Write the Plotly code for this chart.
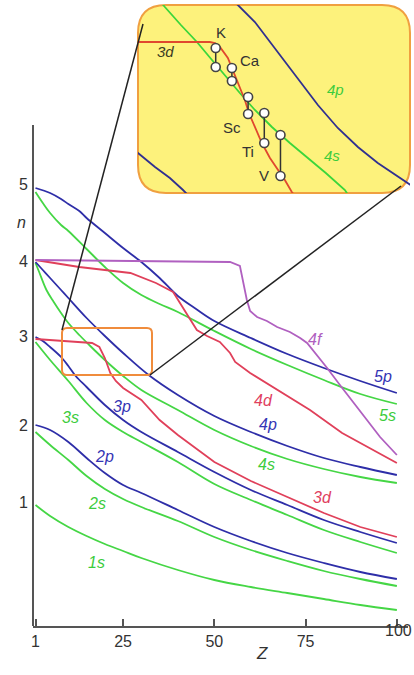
import plotly.graph_objects as go

W, H = 414, 675
AX_ROW = 626          # row of the Z axis; rows grow downward on the drawing

# ---------- main panel: x = Z, y = row on the drawing ----------
z_1s = [1, 5, 10, 15, 20, 25, 30, 40, 50, 60, 70, 80, 90, 100]
y_1s = [505, 516, 527, 536, 544, 551, 558, 570, 580, 587, 593, 599, 605, 610]

z_2s = [1, 5, 10, 15, 20, 25, 30, 40, 50, 60, 70, 80, 90, 100]
y_2s = [432, 445, 460, 476, 489, 499, 507, 521, 537, 550, 561, 571, 579, 586]

z_2p = [1, 5, 10, 15, 20, 25, 30, 40, 50, 60, 70, 80, 90, 100]
y_2p = [425, 430, 442, 458, 473, 485, 493, 510, 527, 541, 553, 563, 572, 579]

z_3s = [1, 5, 10, 15, 20, 25, 30, 40, 50, 60, 70, 80, 90, 100]
y_3s = [342, 360, 381, 403, 420, 432, 442, 462, 484, 500, 515, 530, 542, 553]

z_3p = [1, 3, 5, 8, 10, 12, 15, 20, 25, 30, 40, 50, 60, 70, 80, 90, 100]
y_3p = [337, 341, 347, 357, 366, 376, 387, 405, 420, 432, 452, 472, 490, 505, 520, 532, 543]

z_3d = [1, 5, 10, 15, 16.5, 18.5, 20, 21.5, 23, 25, 30, 35, 40, 50, 60, 70, 80, 90, 100]
y_3d = [339, 340, 341, 342, 343, 347, 358, 373, 381, 388, 400, 420, 435, 462, 481, 497, 513, 527, 537]

z_4s = [1, 2, 4, 6, 8, 10, 13, 16, 20, 25, 30, 40, 50, 60, 70, 80, 90, 100]
y_4s = [263, 272, 290, 302, 313, 323, 335, 346, 360, 376, 390, 410, 430, 446, 459, 469, 477, 483]

z_4p = [1, 3, 5, 8, 10, 15, 20, 25, 32, 40, 50, 60, 70, 80, 90, 100]
y_4p = [262, 270, 278, 290, 298, 318, 336, 353, 375, 395, 416, 432, 446, 458, 467, 475]

z_4d = [1, 13, 27, 34, 38.7, 40.6, 43.3, 45.2, 48, 51.5, 54.3, 55.7, 59.8, 67.2, 76.2, 85, 90, 95, 100]
y_4d = [260, 267, 273, 283, 292, 303, 320, 330, 336, 342, 353, 362, 373, 390, 410, 433, 443, 453, 463]

z_4f = [1, 30, 54.3, 57, 57.8, 58.9, 59.8, 61.7, 64.4, 67.2, 70.7, 73.5, 75.4, 78.1, 80.9, 84.4, 88, 91.8, 95.4, 100]
y_4f = [260, 261, 262, 266, 280, 300, 311, 317, 321, 327, 332, 338, 343, 355, 368, 385, 402, 420, 437, 455]

z_5s = [1, 3, 5, 8, 10, 15, 20, 25, 30, 35, 40, 50, 60, 70, 80, 90, 100]
y_5s = [192, 203, 213, 225, 231, 249, 267, 283, 295, 304, 312, 331, 349, 365, 380, 394, 404]

z_5p = [1, 5, 8, 10, 13, 15, 20, 25, 30, 35, 40, 45, 50, 60, 70, 80, 90, 100]
y_5p = [188, 193, 199, 204, 211, 218, 233, 248, 262, 278, 296, 309, 321, 338, 354, 368, 381, 393]

n_ticks = ["1", "2", "3", "4", "5"]
n_rows = [502, 425, 336, 261, 184]
z_ticks = [1, 25, 50, 75, 100]
z_tick_text = ["1", "25", "50", "75", ""]   # "100" is placed by hand so it is not cut

# curve labels: text, Z, row
lab_text = ["1s", "2s", "2p", "3s", "3p", "3d", "4s", "4p", "4d", "4f", "5p", "5s"]
lab_z = [17.8, 17.8, 20.0, 10.5, 24.7, 79.5, 64.4, 64.8, 63.5, 77.8, 96.2, 97.4]
lab_row = [562, 503, 456, 417, 406, 497, 464, 424, 400, 339, 376, 415]

# ---------- inset (magnified K..V region) ----------
iz_4s = [15.5, 15.86, 16.85, 17.84, 18.77, 19.63, 20.49, 21.42, 22.47, 23.58, 24.69, 25.8, 26.98, 27.3]
iy_4s = [0, 7, 25, 42, 60, 77, 93, 110, 127, 143, 158, 173, 190, 198]

iz_3d = [13.5, 18.64, 18.95, 19.26, 19.75, 20.06, 20.49, 20.8, 21.05, 21.42, 21.85, 22.35, 22.84, 23.27, 23.7, 24.0]
iy_3d = [42, 42, 43, 47, 58, 70, 87, 100, 113, 127, 143, 158, 170, 180, 192, 198]

iz_4p = [20.0, 20.37, 21.42, 22.35, 23.27, 24.2, 25.31, 26.54, 27.78, 29.01, 30.25, 31.0, 31.5]
iy_4p = [0, 5, 22, 42, 62, 82, 105, 128, 147, 163, 177, 185, 190]

iz_3p = [13.7, 14.2, 15.25, 16.17, 16.98, 17.4]
iy_3p = [145, 153, 167, 178, 190, 197]

elements = ["K", "Ca", "Sc", "Ti", "V"]
el_z = [19, 20, 21, 22, 23]
el_upper = [48, 68, 97, 113, 135]
el_lower = [67, 81, 114, 143, 176]
el_lab_z = [19.3, 21.1, 20.0, 21.0, 22.0]
el_lab_row = [32, 60, 127, 151, 175]

GREEN = "#45d645"
BLUE = "#2e2ea8"
RED = "#e0405a"
PURPLE = "#b060c0"
FONT = "Liberation Sans, Arial, sans-serif"


def px(x):
    return x / W


def py(y):
    return (AX_ROW - y) / AX_ROW


def rounded_box(x0, y0, x1, y1, r):
    return (f"M {px(x0 + r)},{py(y0)} L {px(x1 - r)},{py(y0)} "
            f"Q {px(x1)},{py(y0)} {px(x1)},{py(y0 + r)} L {px(x1)},{py(y1 - r)} "
            f"Q {px(x1)},{py(y1)} {px(x1 - r)},{py(y1)} L {px(x0 + r)},{py(y1)} "
            f"Q {px(x0)},{py(y1)} {px(x0)},{py(y1 - r)} L {px(x0)},{py(y0 + r)} "
            f"Q {px(x0)},{py(y0)} {px(x0 + r)},{py(y0)} Z")


fig = go.Figure()

main = [
    (z_1s, y_1s, GREEN, "spline"), (z_2s, y_2s, GREEN, "spline"), (z_3s, y_3s, GREEN, "spline"),
    (z_4s, y_4s, GREEN, "spline"), (z_5s, y_5s, GREEN, "spline"),
    (z_2p, y_2p, BLUE, "spline"), (z_3p, y_3p, BLUE, "spline"), (z_4p, y_4p, BLUE, "spline"),
    (z_5p, y_5p, BLUE, "spline"),
    (z_3d, y_3d, RED, "linear"), (z_4d, y_4d, RED, "linear"),
    (z_4f, y_4f, PURPLE, "linear"),
]
for zs, ys, col, shp in main:
    fig.add_trace(go.Scatter(x=zs, y=ys, mode="lines", line=dict(color=col, width=1.8, shape=shp),
                             hoverinfo="skip", showlegend=False))

# inset curves
inset = [(iz_4s, iy_4s, "#3bd63b"), (iz_3d, iy_3d, "#e0482e"),
         (iz_4p, iy_4p, "#303090"), (iz_3p, iy_3p, "#303090")]
for zs, ys, col in inset:
    fig.add_trace(go.Scatter(x=zs, y=ys, xaxis="x2", yaxis="y2", mode="lines",
                             line=dict(color=col, width=1.8), hoverinfo="skip", showlegend=False))

cx, cy = [], []
for z, a, b in zip(el_z, el_upper, el_lower):
    cx += [z, z, None]
    cy += [a, b, None]
fig.add_trace(go.Scatter(x=cx, y=cy, xaxis="x2", yaxis="y2", mode="lines+markers",
                         line=dict(color="#333", width=1.5),
                         marker=dict(symbol="circle", size=9, color="white",
                                     line=dict(color="#444", width=1.6)),
                         hoverinfo="skip", showlegend=False))

shapes = [
    # inset panel
    dict(type="path", xref="paper", yref="paper", path=rounded_box(138, 5, 410, 193, 28),
         fillcolor="#fdf27c", line=dict(color="#f0a040", width=2), layer="below"),
    # zoom window in main panel
    dict(type="path", xref="paper", yref="paper", path=rounded_box(62, 328, 152, 375, 5),
         line=dict(color="#f08c3c", width=2), layer="above"),
    # connectors
    dict(type="line", xref="paper", yref="paper", x0=px(62), y0=py(330), x1=px(143), y1=py(24),
         line=dict(color="#222", width=1.5)),
    dict(type="line", xref="paper", yref="paper", x0=px(150), y0=py(375), x1=px(401), y1=py(186),
         line=dict(color="#222", width=1.5)),
    # n axis line
    dict(type="line", xref="paper", yref="paper", x0=px(33), y0=py(125), x1=px(33), y1=py(AX_ROW),
         line=dict(color="#555", width=2)),
]

ann = []
lab_col = {"s": "#3ccc3c", "p": "#3535b5", "d": "#e04060", "f": "#b060c0"}
for t, z, r in zip(lab_text, lab_z, lab_row):
    ann.append(dict(x=z, y=r, xref="x", yref="y", text=f"<i>{t}</i>", showarrow=False,
                    font=dict(family=FONT, size=16, color=lab_col[t[1]])))
for t, z, r in zip(elements, el_lab_z, el_lab_row):
    ann.append(dict(x=z, y=r, xref="x2", yref="y2", text=t, showarrow=False,
                    font=dict(family=FONT, size=15, color="#333")))
ann += [
    dict(x=15.9, y=51, xref="x2", yref="y2", text="<i>3d</i>", showarrow=False,
         font=dict(family=FONT, size=15, color="#3a3a22")),
    dict(x=26.4, y=89, xref="x2", yref="y2", text="<i>4p</i>", showarrow=False,
         font=dict(family=FONT, size=15, color="#3ccc3c")),
    dict(x=26.2, y=155, xref="x2", yref="y2", text="<i>4s</i>", showarrow=False,
         font=dict(family=FONT, size=15, color="#3ccc3c")),
    dict(x=px(15), y=py(222), xref="paper", yref="paper", text="<i>n</i>", showarrow=False,
         font=dict(family=FONT, size=16, color="#333")),
    dict(x=px(262), y=py(665), xref="paper", yref="paper", text="<i>Z</i>", showarrow=False,
         font=dict(family=FONT, size=17, color="#333")),
    dict(x=1.0, y=py(641), xref="paper", yref="paper", text="100", showarrow=False,
         xanchor="right", font=dict(family=FONT, size=16, color="#333")),
]

fig.update_layout(
    width=W, height=H,
    margin=dict(l=0, r=0, t=0, b=H - AX_ROW),
    paper_bgcolor="white", plot_bgcolor="rgba(0,0,0,0)",
    showlegend=False,
    xaxis=dict(domain=[px(33), px(408)], range=[0.315, 103.05], tickvals=z_ticks,
               ticktext=z_tick_text, automargin=False,
               showgrid=False, zeroline=False, showline=True, linecolor="#555", linewidth=2,
               ticks="inside", ticklen=7, tickwidth=2, tickcolor="#555",
               tickfont=dict(family=FONT, size=16, color="#333")),
    yaxis=dict(domain=[0, 1], range=[AX_ROW, 0], tickvals=n_rows, ticktext=n_ticks,
               automargin=False,
               showgrid=False, zeroline=False, showline=False, ticks="",
               ticklabelstandoff=4, tickfont=dict(family=FONT, size=16, color="#333")),
    xaxis2=dict(domain=[px(138), px(410)], range=[14.2, 31.0], anchor="y2", visible=False),
    yaxis2=dict(domain=[py(193), py(5)], range=[193, 5], anchor="x2", visible=False),
    shapes=shapes,
    annotations=ann,
)

# drop the browser's default page margin so the figure sits at the window's corner
fig.write_html("out.html", config={"displayModeBar": False},
               post_script="document.body.style.margin='0';")
